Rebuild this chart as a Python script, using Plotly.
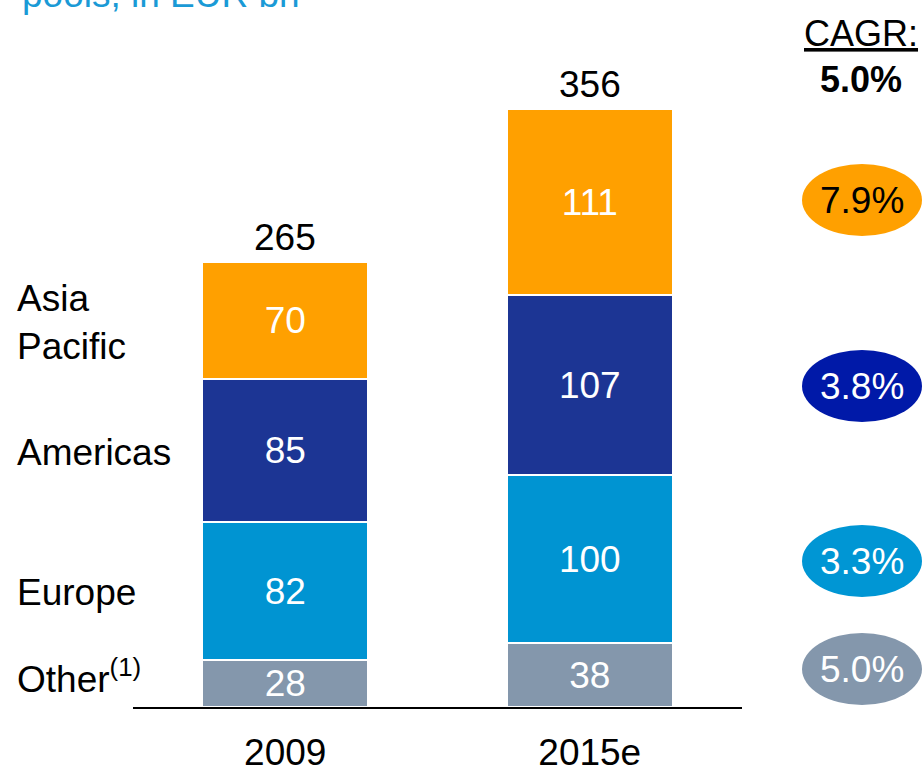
import plotly.graph_objects as go

years = ["2009", "2015e"]
regions = ["Other<sup>(1)</sup>", "Europe", "Americas", "Asia<br>Pacific"]
other = [28, 38]
europe = [82, 100]
americas = [85, 107]
asia = [70, 111]
totals = [265, 356]
cagr = ["5.0%", "3.3%", "3.8%", "7.9%"]
cagr_total = "5.0%"

bar_colors = ["#8497AC", "#0094D2", "#1C3594", "#FFA000"]
oval_colors = ["#8497AC", "#0096D4", "#0019A8", "#FFA000"]
oval_text = ["white", "white", "white", "black"]

FONT = "Liberation Sans, Arial, sans-serif"
FS = 37

W, H = 923, 767
L, R, T, B = 133, 181, 35, 60
pw, ph = W - L - R, H - T - B


# window pixel -> paper coordinates
def px_x(x):
    return (x - L) / pw


def px_y(y):
    return (H - B - y) / ph


series = [other, europe, americas, asia]
fig = go.Figure()
for vals, col in zip(series, bar_colors):
    fig.add_trace(go.Bar(
        x=years, y=vals, width=0.546,
        marker=dict(color=col, line=dict(color="white", width=2)),
        text=vals, textposition="inside", insidetextanchor="middle",
        textfont=dict(color="white", size=FS, family=FONT),
        hoverinfo="skip", showlegend=False,
    ))

annotations = []
# totals above bars
for i, tot in enumerate(totals):
    annotations.append(dict(x=i, y=tot, text=str(tot), showarrow=False,
                            xanchor="center", yanchor="bottom", yshift=2,
                            font=dict(size=FS, color="black", family=FONT)))

# region labels on the left (pixel rows of the slide)
label_rows = [676, 592, 452, 322]
for name, row in zip(regions, label_rows):
    annotations.append(dict(xref="paper", yref="paper", x=px_x(15), y=px_y(row),
                            text=name, showarrow=False, xanchor="left",
                            yanchor="middle", align="left",
                            font=dict(size=FS, color="black", family=FONT)))

# CAGR ovals on the right
shapes = []
cx = px_x(862)
oval_rows = [669, 561, 386, 200]
for val, row, col, tc in zip(cagr, oval_rows, oval_colors, oval_text):
    shapes.append(dict(type="circle", xref="paper", yref="paper",
                       xsizemode="pixel", ysizemode="pixel",
                       xanchor=cx, yanchor=px_y(row), x0=-60, x1=60, y0=-36, y1=36,
                       fillcolor=col, line=dict(width=0), layer="below"))
    annotations.append(dict(xref="paper", yref="paper", x=cx, y=px_y(row),
                            text=val, showarrow=False, xanchor="center",
                            yanchor="middle",
                            font=dict(size=FS, color=tc, family=FONT)))

annotations.append(dict(xref="paper", yref="paper", x=px_x(861), y=px_y(33),
                        text="<u>CAGR:</u>", showarrow=False, xanchor="center",
                        yanchor="middle",
                        font=dict(size=36, color="black", family=FONT)))
annotations.append(dict(xref="paper", yref="paper", x=px_x(861), y=px_y(80),
                        text="<b>" + cagr_total + "</b>", showarrow=False,
                        xanchor="center", yanchor="middle",
                        font=dict(size=36, color="black", family=FONT)))

# cut-off subtitle at the very top
annotations.append(dict(xref="paper", yref="paper", x=px_x(20), y=px_y(-6),
                        text="pools, in EUR bn", showarrow=False,
                        xanchor="left", yanchor="middle",
                        font=dict(size=FS, color="#1A9AD6", family=FONT)))

fig.update_layout(
    barmode="stack",
    width=W, height=H,
    margin=dict(l=L, r=R, t=T, b=B, autoexpand=False),
    paper_bgcolor="white", plot_bgcolor="white",
    annotations=annotations, shapes=shapes,
    uniformtext=dict(minsize=FS, mode="show"),
    xaxis=dict(type="category", range=[-0.5, 1.5], automargin=False,
               showline=True, linecolor="black", linewidth=1.5,
               ticks="outside", ticklen=12, tickcolor="rgba(0,0,0,0)",
               tickfont=dict(size=FS, color="black", family=FONT), fixedrange=True),
    yaxis=dict(range=[0, 400], visible=False, showgrid=False, fixedrange=True),
)

# drop the default 8px body margin so the figure fills the window
fig.write_html("out.html", config={"displayModeBar": False},
               post_script="document.body.style.margin = '0';")
